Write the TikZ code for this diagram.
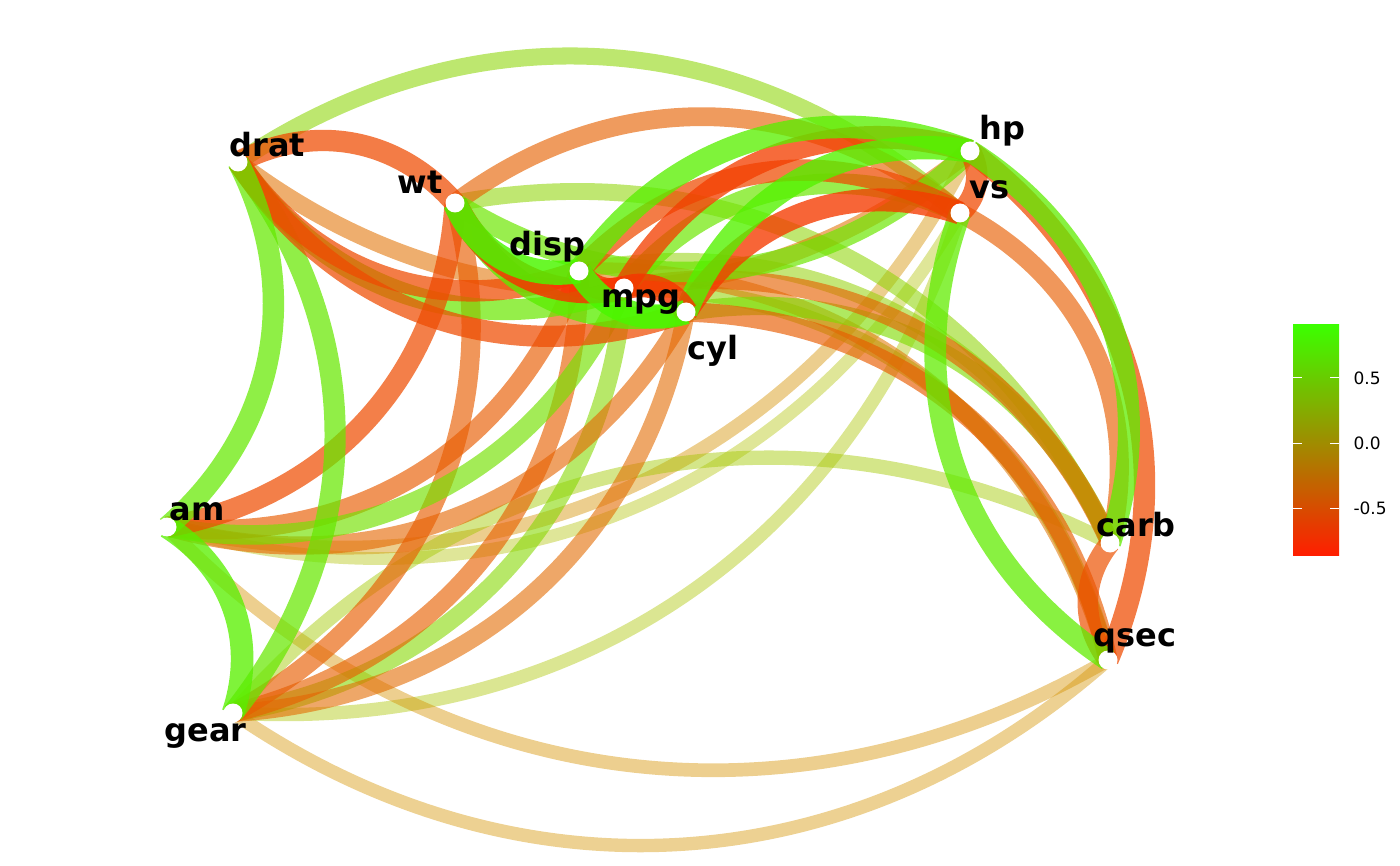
\documentclass[tikz,border=0pt]{standalone}
\usepackage{fontspec}
\setmainfont{DejaVu Sans}
\definecolor{grn}{HTML}{3CFF00}
\definecolor{mid}{HTML}{C8B400}
\definecolor{rd}{HTML}{FF1E00}
\newcommand\edg[3]{%
  \pgfmathsetmacro\aa{abs(#3)}\pgfmathsetmacro\pp{100*\aa}%
  \ifdim #3pt<0pt \def\cc{rd!\pp!mid}\else\def\cc{grn!\pp!mid}\fi
  \draw[line width=10pt+\aa*16pt, draw=\cc, draw opacity=0.3+\aa*0.6] (#1) to[bend left=38] (#2);}
\tikzset{dot/.style={circle,fill=white,inner sep=0pt,minimum size=19pt},
  lab/.style={font=\bfseries\fontsize{32}{32}\selectfont}}
\begin{document}
\begin{tikzpicture}[x=1pt,y=-1pt]
\useasboundingbox (0,0) rectangle (1400,866);
\coordinate (mpg) at (624,288);
\coordinate (cyl) at (686,312);
\coordinate (disp) at (579,271);
\coordinate (hp) at (970,151);
\coordinate (drat) at (238,162);
\coordinate (wt) at (455,203);
\coordinate (qsec) at (1108,660);
\coordinate (vs) at (960,213);
\coordinate (am) at (167,527);
\coordinate (gear) at (233,713);
\coordinate (carb) at (1110,543);
\begin{scope}
\clip (0,0) rectangle (1400,866);
\edg{vs}{am}{0.17}
\edg{qsec}{gear}{-0.21}\edg{vs}{gear}{0.21}\edg{qsec}{am}{-0.23}
\edg{hp}{am}{-0.24}\edg{gear}{carb}{0.27}
\edg{disp}{carb}{0.39}\edg{mpg}{qsec}{0.42}\edg{disp}{qsec}{-0.43}
\edg{wt}{carb}{0.43}\edg{drat}{vs}{0.44}\edg{hp}{drat}{-0.45}
\edg{mpg}{gear}{0.48}\edg{cyl}{gear}{-0.49}\edg{cyl}{am}{-0.52}
\edg{cyl}{carb}{0.53}\edg{mpg}{carb}{-0.55}\edg{wt}{vs}{-0.55}
\edg{disp}{gear}{-0.56}\edg{vs}{carb}{-0.57}\edg{wt}{gear}{-0.58}
\edg{cyl}{qsec}{-0.59}\edg{disp}{am}{-0.59}\edg{mpg}{am}{0.60}
\edg{mpg}{vs}{0.66}\edg{hp}{wt}{0.66}\edg{qsec}{carb}{-0.66}
\edg{mpg}{drat}{0.68}\edg{wt}{am}{-0.69}\edg{drat}{gear}{0.70}
\edg{cyl}{drat}{-0.70}\edg{disp}{drat}{-0.71}\edg{disp}{vs}{-0.71}
\edg{hp}{qsec}{-0.71}\edg{drat}{wt}{-0.71}\edg{drat}{am}{0.71}
\edg{hp}{vs}{-0.72}\edg{qsec}{vs}{0.74}\edg{hp}{carb}{0.75}
\edg{mpg}{hp}{-0.78}\edg{cyl}{wt}{0.78}\edg{disp}{hp}{0.79}
\edg{am}{gear}{0.79}\edg{cyl}{vs}{-0.81}\edg{cyl}{hp}{0.83}
\edg{mpg}{cyl}{-0.85}\edg{mpg}{disp}{-0.85}\edg{mpg}{wt}{-0.87}
\edg{disp}{wt}{0.89}\edg{cyl}{disp}{0.90}
\end{scope}
\foreach \n in {mpg,cyl,disp,hp,drat,wt,qsec,vs,am,gear,carb}
  \node[dot] (n\n) at (\n) {};
\node[lab,anchor=south west] (ldrat) at (226,160) {drat};
\node[lab,anchor=east] (lwt) at (446,182) {wt};
\node[lab,anchor=south east] (ldisp) at (589,266) {disp};
\node[lab,anchor=north west] (lmpg) at (598,286) {mpg};
\node[lab,anchor=north west] (lcyl) at (684,332) {cyl};
\node[lab,anchor=south west] (lhp) at (976,150) {hp};
\node[lab,anchor=west] (lvs) at (966,190) {vs};
\node[lab,anchor=south west] (lam) at (166,524) {am};
\node[lab,anchor=north east] (lgear) at (250,720) {gear};
\node[lab,anchor=south west] (lcarb) at (1093,540) {carb};
\node[lab,anchor=south west] (lqsec) at (1090,657) {qsec};
\shade[top color=grn,middle color=mid,bottom color=rd] (1293,325) rectangle (1339,555);
\foreach \v/\y in {0.5/378,0.0/443,-0.5/508}{
  \draw[white,line width=1pt] (1293,\y) -- (1302,\y);
  \draw[white,line width=1pt] (1330,\y) -- (1339,\y);
  \node[anchor=west,font=\fontsize{17}{17}\selectfont] at (1350,\y) {\v};}
\end{tikzpicture}
\end{document}
